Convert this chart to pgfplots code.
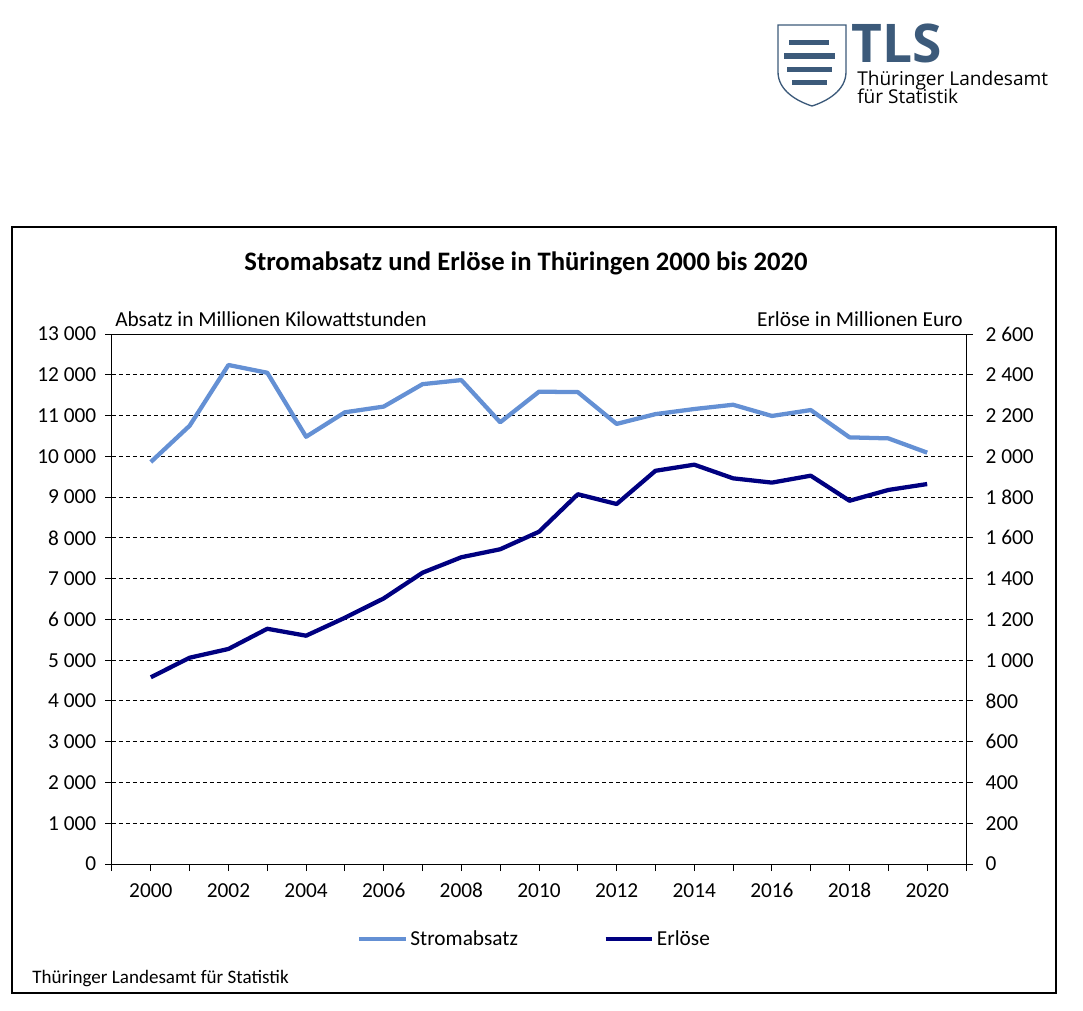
\documentclass[border=0pt]{standalone}
\usepackage{pgfplots}
\pgfplotsset{compat=1.18}
\usepackage{fontspec}
\setmainfont{Carlito}[Numbers=Lining]
\newfontfamily\logofont{Open Sans}
\definecolor{strom}{RGB}{100,144,212}
\definecolor{erl}{RGB}{0,0,128}
\definecolor{tls}{RGB}{60,90,122}

\pgfplotstableread{
year strom
2000 9860
2001 10750
2002 12240
2003 12050
2004 10480
2005 11080
2006 11220
2007 11770
2008 11870
2009 10835
2010 11585
2011 11575
2012 10795
2013 11035
2014 11160
2015 11265
2016 10990
2017 11135
2018 10465
2019 10440
2020 10090
}\stromtab

\pgfplotstableread{
year erl
2000 916
2001 1012
2002 1055
2003 1154
2004 1120
2005 1208
2006 1303
2007 1429
2008 1505
2009 1544
2010 1630
2011 1814
2012 1766
2013 1929
2014 1959
2015 1892
2016 1871
2017 1905
2018 1782
2019 1835
2020 1864
}\erltab

\begin{document}
\begin{tikzpicture}
\path[use as bounding box] (0pt,0pt) rectangle (812.25pt,-758.25pt);
% frame
\draw[line width=1.5pt] (9pt,-170.25pt) rectangle (792pt,-744.75pt);
% logo
\draw[tls,line width=1pt,fill=white] (583.5pt,-18.75pt) -- (634.5pt,-18.75pt) -- (634.5pt,-54pt)
  .. controls (634.5pt,-68pt) and (620pt,-76pt) .. (609pt,-79.5pt)
  .. controls (598pt,-76pt) and (583.5pt,-68pt) .. (583.5pt,-54pt) -- cycle;
\fill[tls] (592pt,-30pt) rectangle (622pt,-34pt);
\fill[tls] (588pt,-40pt) rectangle (626pt,-44pt);
\fill[tls] (590pt,-50pt) rectangle (624pt,-54pt);
\fill[tls] (594pt,-60pt) rectangle (620pt,-64pt);
\node[anchor=base west,inner sep=0pt,text depth=0pt,text=tls,font=\fontsize{40}{40}\selectfont\bfseries\logofont] at (638.5pt,-46.5pt) {TLS};
\node[anchor=base west,inner sep=0pt,text depth=0pt,font=\fontsize{14.3}{15}\selectfont\logofont] at (642.75pt,-64pt) {Thüringer Landesamt};
\node[anchor=base west,inner sep=0pt,font=\fontsize{14.3}{15}\selectfont\logofont] at (642.75pt,-77.5pt) {für Statistik};
% title and labels
\node[anchor=base,inner sep=0pt,font=\fontsize{20}{22}\selectfont\bfseries] at (394.5pt,-202.5pt) {Stromabsatz und Erlöse in Thüringen 2000 bis 2020};
\node[anchor=base west,inner sep=0pt,font=\fontsize{16}{18}\selectfont] at (86.25pt,-244.5pt) {Absatz in Millionen Kilowattstunden};
\node[anchor=base east,inner sep=0pt,font=\fontsize{16}{18}\selectfont] at (722.25pt,-244.5pt) {Erlöse in Millionen Euro};
\node[anchor=base west,inner sep=0pt,font=\fontsize{14.3}{16}\selectfont] at (24pt,-737.25pt) {Thüringer Landesamt für Statistik};

\begin{axis}[
  at={(84pt,-648pt)}, anchor=south west,
  scale only axis, width=640.5pt, height=397.5pt,
  xmin=1999, xmax=2021, ymin=0, ymax=13000,
  xtick={2000,2002,...,2020},
  minor xtick={1999,2001,...,2021},
  ytick={0,1000,...,13000},
  scaled y ticks=false,
  xtick pos=lower, ytick pos=left,
  tick align=outside,
  major tick length=5.25pt, minor tick length=5.25pt,
  every tick/.style={black,line width=0.75pt},
  axis line style={line width=0.75pt},
  ymajorgrids,
  grid style={black,line width=0.75pt,dash pattern=on 3pt off 2.25pt},
  tick label style={font=\fontsize{16}{18}\selectfont},
  /pgf/number format/assume math mode=true,
  /pgf/number format/1000 sep={\ },
  x tick label style={/pgf/number format/1000 sep={}},
  xticklabel style={anchor=base,inner sep=0pt,yshift=-20pt},
  yticklabel style={xshift=-3pt},
  legend style={draw=none,fill=none,at={(0.495,-0.1415)},anchor=center,
    font=\fontsize{16}{18}\selectfont,legend columns=2,
    /tikz/every even column/.append style={column sep=62pt},
    inner sep=0pt},
  legend image code/.code={\draw[#1] (0pt,0pt) -- (35pt,0pt);},
  clip=false,
]
\addplot[strom,line width=3.2pt,line join=round] table[x=year,y=strom] {\stromtab};
\addlegendentry{Stromabsatz}
\addlegendimage{erl,line width=3.2pt}
\addlegendentry{Erlöse}
\end{axis}

\begin{axis}[
  at={(84pt,-648pt)}, anchor=south west,
  scale only axis, width=640.5pt, height=397.5pt,
  xmin=1999, xmax=2021, ymin=0, ymax=2600,
  ytick={0,200,...,2600},
  scaled y ticks=false,
  axis y line*=right, hide x axis,
  tick align=outside,
  major tick length=5.25pt,
  every tick/.style={black,line width=0.75pt},
  axis line style={line width=0.75pt},
  tick label style={font=\fontsize{16}{18}\selectfont},
  /pgf/number format/assume math mode=true,
  /pgf/number format/1000 sep={\ },
  yticklabel style={xshift=6pt},
  clip=false,
]
\addplot[erl,line width=3.2pt,line join=round] table[x=year,y=erl] {\erltab};
\end{axis}
\end{tikzpicture}
\end{document}
